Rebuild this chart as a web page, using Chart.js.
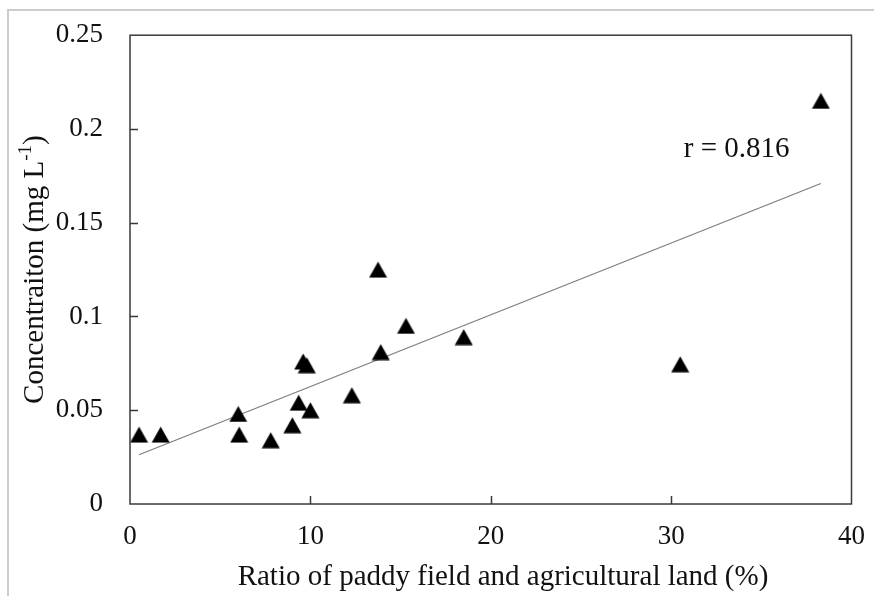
<!DOCTYPE html>
<html>
<head>
<meta charset="utf-8">
<script src="https://cdn.jsdelivr.net/npm/chart.js@4/dist/chart.umd.min.js"></script>
<style>
  html, body { margin: 0; padding: 0; background: #fff; }
  #wrap { position: relative; width: 874px; height: 596px; }
</style>
</head>
<body>
<div id="wrap"><canvas id="chart" width="874" height="596"></canvas></div>
<script>
// Paddy-field share of agricultural land (%) per catchment
const ratioPct = [0.5, 1.7, 6.0, 6.05, 7.8, 9.0, 9.35, 9.6, 9.8, 10.0, 12.3, 13.75, 13.9, 15.3, 18.5, 30.5, 38.3];
// Measured concentration (mg L-1) for the same catchments
const concentration = [0.037, 0.037, 0.048, 0.037, 0.034, 0.042, 0.054, 0.076, 0.074, 0.050, 0.058, 0.125, 0.081, 0.095, 0.089, 0.0745, 0.215];
// Axis ranges and tick steps
const xRange = [0, 40];
const xStep = 10;
const yRange = [0, 0.25];
const yStep = 0.05;
// Correlation label
const corrLabel = 'r = 0.816';
const corrAnchor = { x: 30.7, y: 0.189 };

const FONT = '"Liberation Serif", "Times New Roman", serif';
const INK = '#111111';
const FRAME = '#3a3a3a';

// Least-squares trend line over the observed x range
function linearFit(xs, ys) {
  const n = xs.length;
  const mx = xs.reduce((a, b) => a + b, 0) / n;
  const my = ys.reduce((a, b) => a + b, 0) / n;
  let sxy = 0, sxx = 0;
  for (let i = 0; i < n; i++) {
    sxy += (xs[i] - mx) * (ys[i] - my);
    sxx += (xs[i] - mx) * (xs[i] - mx);
  }
  const slope = sxy / sxx;
  return { slope, intercept: my - slope * mx };
}
const fit = linearFit(ratioPct, concentration);
const xMin = Math.min(...ratioPct), xMax = Math.max(...ratioPct);
const trendPoints = [
  { x: xMin, y: fit.intercept + fit.slope * xMin },
  { x: xMax, y: fit.intercept + fit.slope * xMax }
];

// Solid triangle marker, centred on its bounding box
function triangleMarker(w, h) {
  const c = document.createElement('canvas');
  c.width = w + 1; c.height = h + 1;
  const g = c.getContext('2d');
  g.fillStyle = '#000';
  g.beginPath();
  g.moveTo((w + 1) / 2, 0.5);
  g.lineTo(w + 0.5, h + 0.5);
  g.lineTo(0.5, h + 0.5);
  g.closePath();
  g.fill();
  return c;
}
const marker = triangleMarker(18, 16);

const decorations = {
  id: 'decorations',
  beforeDraw(chart) {
    const ctx = chart.ctx;
    ctx.save();
    ctx.fillStyle = '#fff';
    ctx.fillRect(0, 0, chart.width, chart.height);
    // light page frame on the top and left
    ctx.strokeStyle = '#cccccc';
    ctx.lineWidth = 2;
    ctx.beginPath();
    ctx.moveTo(8, chart.height);
    ctx.lineTo(8, 10);
    ctx.lineTo(chart.width, 10);
    ctx.stroke();
    ctx.restore();
  },
  afterDraw(chart) {
    const ctx = chart.ctx;
    const area = chart.chartArea;
    const xs = chart.scales.x, ys = chart.scales.y;
    ctx.save();
    // plot frame and inward tick marks
    ctx.strokeStyle = FRAME;
    ctx.lineWidth = 1.5;
    ctx.strokeRect(area.left, area.top, area.right - area.left, area.bottom - area.top);
    ctx.beginPath();
    ys.ticks.forEach(t => {
      if (t.value <= ys.min || t.value >= ys.max) return;
      const py = Math.round(ys.getPixelForValue(t.value)) + 0.5;
      ctx.moveTo(area.left, py);
      ctx.lineTo(area.left + 8, py);
    });
    xs.ticks.forEach(t => {
      if (t.value <= xs.min || t.value >= xs.max) return;
      const px = Math.round(xs.getPixelForValue(t.value)) + 0.5;
      ctx.moveTo(px, area.bottom);
      ctx.lineTo(px, area.bottom - 8);
    });
    ctx.stroke();

    ctx.fillStyle = INK;
    // correlation label
    ctx.font = '29px ' + FONT;
    ctx.textAlign = 'left';
    ctx.textBaseline = 'middle';
    ctx.fillText(corrLabel, xs.getPixelForValue(corrAnchor.x), ys.getPixelForValue(corrAnchor.y));

    // x-axis title
    ctx.textAlign = 'center';
    ctx.fillText('Ratio of paddy field and agricultural land (%)', 503, 577);

    // y-axis title with superscript unit
    const main = 'Concentraiton (mg L', sup = '-1', tail = ')';
    const bigFont = '29px ' + FONT, supFont = '19px ' + FONT;
    ctx.font = bigFont;
    const w1 = ctx.measureText(main).width;
    const w3 = ctx.measureText(tail).width;
    ctx.font = supFont;
    const w2 = ctx.measureText(sup).width;
    const total = w1 + w2 + w3;
    ctx.translate(35, (area.top + area.bottom) / 2);
    ctx.rotate(-Math.PI / 2);
    ctx.textAlign = 'left';
    const x0 = -total / 2;
    ctx.font = bigFont;
    ctx.fillText(main, x0, 0);
    ctx.font = supFont;
    ctx.fillText(sup, x0 + w1, -9);
    ctx.font = bigFont;
    ctx.fillText(tail, x0 + w1 + w2, 0);
    ctx.restore();
  }
};

new Chart(document.getElementById('chart'), {
  type: 'scatter',
  data: {
    datasets: [
      {
        type: 'line',
        label: 'trend',
        data: trendPoints,
        borderColor: '#7d7d7d',
        borderWidth: 1.2,
        pointRadius: 0,
        fill: false,
        order: 2
      },
      {
        label: 'samples',
        data: ratioPct.map((x, i) => ({ x, y: concentration[i] })),
        pointStyle: marker,
        pointRadius: 9,
        order: 1
      }
    ]
  },
  options: {
    responsive: false,
    devicePixelRatio: 1,
    animation: false,
    events: [],
    layout: { padding: { left: 0, top: 34, right: 20, bottom: 0 } },
    plugins: { legend: { display: false }, tooltip: { enabled: false } },
    scales: {
      x: {
        type: 'linear',
        position: 'bottom',
        min: xRange[0], max: xRange[1],
        ticks: { stepSize: xStep, color: INK, font: { family: FONT, size: 27 }, padding: 9, maxRotation: 0 },
        grid: { display: false },
        border: { display: false },
        afterFit(s) { s.height = 92; }
      },
      y: {
        type: 'linear',
        position: 'left',
        min: yRange[0], max: yRange[1],
        ticks: {
          stepSize: yStep, color: INK, font: { family: FONT, size: 27 }, padding: 19,
          callback: v => String(+v.toFixed(2))
        },
        grid: { display: false },
        border: { display: false },
        afterFit(s) { s.width = 130; }
      }
    }
  },
  plugins: [decorations]
});
</script>
</body>
</html>
